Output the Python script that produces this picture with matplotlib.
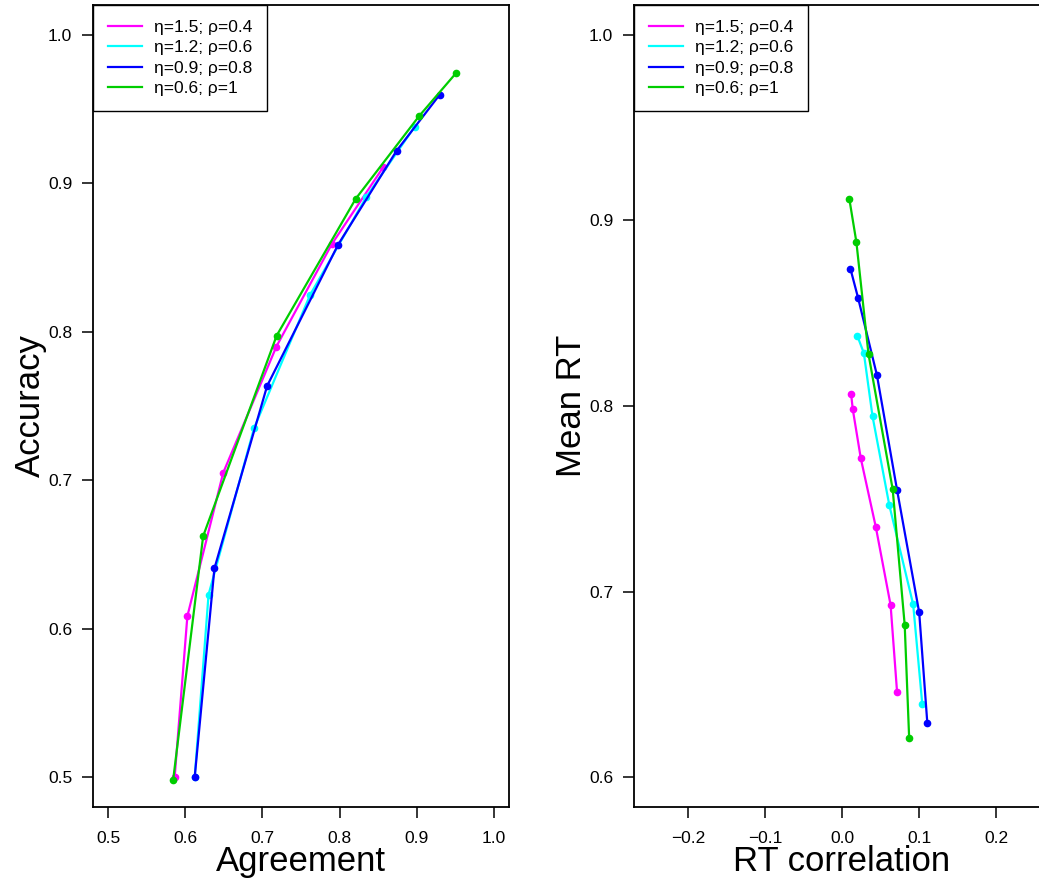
import matplotlib
matplotlib.use("Agg")
import matplotlib.pyplot as plt
from matplotlib.lines import Line2D

plt.rcParams["font.family"] = ["Liberation Sans", "DejaVu Sans"]

labels = ["η=1.5; ρ=0.4", "η=1.2; ρ=0.6", "η=0.9; ρ=0.8", "η=0.6; ρ=1"]
colors = ["#FF00FF", "#00FFFF", "#0000FF", "#00CD00"]

# left panel: agreement vs accuracy
agreement = [
    [0.586, 0.6025, 0.649, 0.718, 0.790, 0.857],
    [0.612, 0.630, 0.689, 0.762, 0.835, 0.8975],
    [0.612, 0.6376, 0.706, 0.798, 0.874, 0.930],
    [0.584, 0.623, 0.7184, 0.821, 0.903, 0.951],
]
accuracy = [
    [0.500, 0.6085, 0.705, 0.790, 0.859, 0.911],
    [0.500, 0.623, 0.735, 0.825, 0.891, 0.938],
    [0.500, 0.6406, 0.7635, 0.8585, 0.9218, 0.9596],
    [0.498, 0.6624, 0.7974, 0.8895, 0.945, 0.974],
]

# right panel: RT correlation vs mean RT
rt_corr = [
    [0.0118, 0.014, 0.0244, 0.044, 0.0631, 0.0715],
    [0.020, 0.0284, 0.0396, 0.0614, 0.0924, 0.1042],
    [0.0109, 0.0209, 0.0453, 0.0715, 0.1002, 0.1107],
    [0.0095, 0.0187, 0.0344, 0.0658, 0.0814, 0.0872],
]
mean_rt = [
    [0.8065, 0.7982, 0.7718, 0.7346, 0.6927, 0.6458],
    [0.8377, 0.8284, 0.7945, 0.7466, 0.6931, 0.6394],
    [0.874, 0.8582, 0.8167, 0.7547, 0.6888, 0.6295],
    [0.9116, 0.8882, 0.8279, 0.7551, 0.682, 0.6209],
]

left_xticks = [0.5, 0.6, 0.7, 0.8, 0.9, 1.0]
left_yticks = [0.5, 0.6, 0.7, 0.8, 0.9, 1.0]
right_xticks = [-0.2, -0.1, 0.0, 0.1, 0.2]
right_yticks = [0.6, 0.7, 0.8, 0.9, 1.0]

W, H = 1039, 888
fig = plt.figure(figsize=(W / 100, H / 100), dpi=100)
ax1 = fig.add_axes([93 / W, (H - 807) / H, 416 / W, 802 / H])
ax2 = fig.add_axes([634 / W, (H - 807) / H, 416 / W, 802 / H])

# legend shows plain lines, no points
handles = [Line2D([], [], color=c, lw=1.6) for c in colors]


def style(ax, xticks, yticks, xlabel, ylabel):
    for s in ax.spines.values():
        s.set_linewidth(1.3)
    ax.set_xticks(xticks)
    ax.set_yticks(yticks)
    ax.set_xticklabels([f"{t:.1f}".replace("-", "\u2212") for t in xticks])
    ax.set_yticklabels([f"{t:.1f}" for t in yticks])
    ax.tick_params(axis="both", direction="out", length=8, width=1.1, labelsize=12.5)
    ax.tick_params(axis="x", pad=9)
    ax.tick_params(axis="y", pad=7)
    ax.set_xlabel(xlabel, fontsize=25)
    ax.set_ylabel(ylabel, fontsize=25)
    ax.xaxis.set_label_coords(0.5, -0.048)
    ax.yaxis.set_label_coords(-0.11, 0.5)
    leg = ax.legend(
        handles,
        labels,
        loc="upper left",
        borderaxespad=0,
        fancybox=False,
        framealpha=1,
        edgecolor="black",
        fontsize=12.5,
        handlelength=2.0,
        handletextpad=0.65,
        borderpad=0.85,
        labelspacing=0.3,
    )
    leg.get_frame().set_linewidth(1.0)


for i in range(4):
    ax1.plot(agreement[i], accuracy[i], color=colors[i], lw=1.6,
             marker="o", ms=4.5)
    ax2.plot(rt_corr[i], mean_rt[i], color=colors[i], lw=1.6,
             marker="o", ms=4.5)

ax1.set_xlim(0.48, 1.02)
ax1.set_ylim(0.48, 1.02)
ax2.set_xlim(-0.27, 0.27)
ax2.set_ylim(0.584, 1.016)

style(ax1, left_xticks, left_yticks, "Agreement", "Accuracy")
style(ax2, right_xticks, right_yticks, "RT correlation", "Mean RT")

fig.savefig("out.png", dpi=100)
